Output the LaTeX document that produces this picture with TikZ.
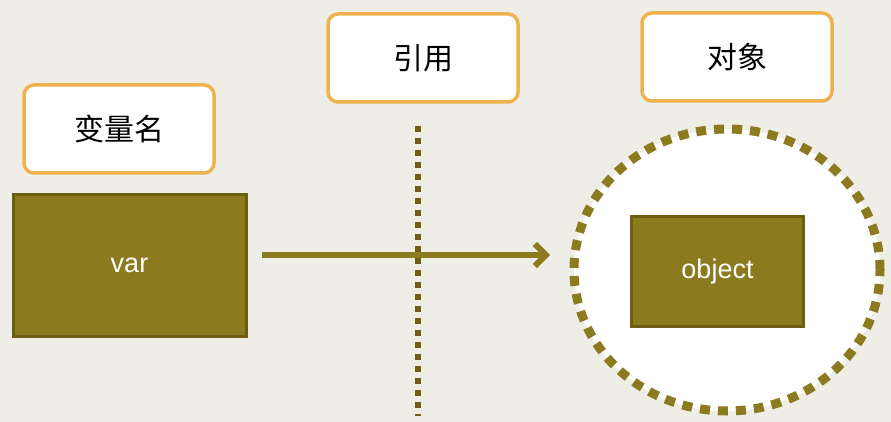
\documentclass[tikz,border=0pt]{standalone}
\usepackage{fontspec}
\setmainfont{Liberation Sans}
\newfontfamily\cjk{Noto Sans CJK SC}
\usetikzlibrary{arrows.meta,shapes.geometric}
\definecolor{bg}{HTML}{EEEDE6}
\definecolor{olive}{HTML}{8C7A1F}
\definecolor{darkolive}{HTML}{6E5E12}
\definecolor{orng}{HTML}{F0B24E}
\tikzset{
 label box/.style={draw=orng,line width=3.5pt,fill=white,rounded corners=10pt,minimum width=190pt,minimum height=88pt,font=\cjk\fontsize{30}{33}\selectfont},
 olive box/.style={draw=darkolive,line width=3pt,fill=olive,text=white,font=\fontsize{27}{30}\selectfont},
}
\begin{document}
\begin{tikzpicture}[x=1pt,y=-1pt]
\fill[bg] (0,0) rectangle (891,422);
\useasboundingbox (0,0) rectangle (891,422);
\node[label box] (name) at (119,129) {变量名};
\node[label box] (ref) at (423,58) {引用};
\node[label box] (obj) at (737,57) {对象};
\node[olive box,minimum width=233pt,minimum height=141pt] (var) at (129.5,265.5) {var};
\coordinate (dtop) at (418,126);
\coordinate (dbot) at (418,416);
\draw[darkolive,line width=6pt,dash pattern=on 6pt off 6pt] (dtop) -- (dbot);
\node[draw=olive,line width=9pt,dash pattern=on 10pt off 8pt,fill=white,ellipse,inner sep=0pt,minimum width=306pt,minimum height=282pt] (circ) at (727,270) {};
\node[olive box,minimum width=172pt,minimum height=110pt] (o) at (717.5,271.5) {object};
\coordinate (as) at (262,255);
\coordinate (ae) at (550,255);
\draw[olive,line width=6pt,-{Straight Barb[length=11pt,width=22pt]}] (as) -- (ae);
\end{tikzpicture}
\end{document}
